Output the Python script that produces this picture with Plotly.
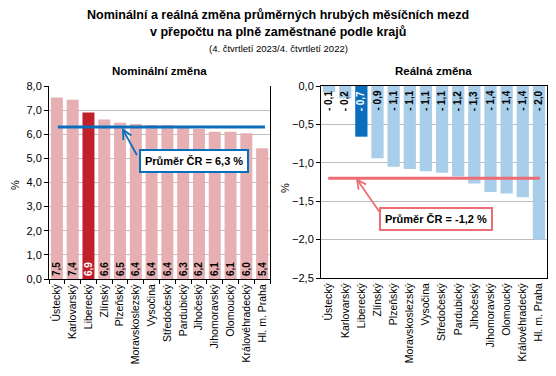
import plotly.graph_objects as go

PAGE_W, PAGE_H = 556, 376
OFF = 8  # default body margin of the page
W, H = PAGE_W - OFF, PAGE_H - OFF

regions = ["Ústecký", "Karlovarský", "Liberecký", "Zlínský", "Plzeňský",
           "Moravskoslezský", "Vysočina", "Středočeský", "Pardubický",
           "Jihočeský", "Jihomoravský", "Olomoucký", "Královéhradecký", "Hl. m. Praha"]
nominal = [7.52, 7.43, 6.90, 6.61, 6.48, 6.43, 6.38, 6.37, 6.32, 6.22, 6.10, 6.10, 6.04, 5.42]
nominal_avg = 6.3

regions_real = ["Ústecký", "Karlovarský", "Liberecký", "Zlínský", "Plzeňský",
                "Moravskoslezský", "Vysočina", "Středočeský", "Pardubický",
                "Jihočeský", "Jihomoravský", "Olomoucký", "Královéhradecký", "Hl. m. Praha"]
real = [-0.08, -0.16, -0.66, -0.94, -1.05, -1.08, -1.11, -1.13, -1.18, -1.27, -1.38, -1.40, -1.45, -2.00]
real_avg = -1.2

highlight = "Liberecký"

nom_ticks = [0, 1, 2, 3, 4, 5, 6, 7, 8]
real_ticks = [0, -0.5, -1.0, -1.5, -2.0, -2.5]

FONT = "Liberation Sans, Arial, sans-serif"
PINK, RED = "#E6B0B3", "#C0202A"
LBLUE, BLUE = "#A9CEE9", "#0A6EBD"
AVG_BLUE, AVG_RED = "#0A6EBD", "#EC6D74"


def px(x, y):
    return (x - OFF) / W, 1 - (y - OFF) / H


def dom_x(a, b):
    return [(a - OFF) / W, (b - OFF) / W]


def dom_y(top, bottom):
    return [1 - (bottom - OFF) / H, 1 - (top - OFF) / H]


fig = go.Figure()

nom_colors = [RED if r == highlight else PINK for r in regions]
nom_txtcol = ["white" if r == highlight else "black" for r in regions]
fig.add_trace(go.Bar(
    x=regions, y=nominal, marker=dict(color=nom_colors, line=dict(width=0)),
    text=[f"{v:.1f}".replace(".", ",") for v in nominal],
    textposition="inside", insidetextanchor="start", textangle=-90,
    textfont=dict(family=FONT, size=10, color=nom_txtcol, weight="bold"),
    constraintext="none",
    xaxis="x", yaxis="y", showlegend=False, hoverinfo="skip"))

real_colors = [BLUE if r == highlight else LBLUE for r in regions_real]
fig.add_trace(go.Bar(
    x=regions_real, y=real, marker=dict(color=real_colors, line=dict(width=0)),
    xaxis="x2", yaxis="y2", showlegend=False, hoverinfo="skip"))

annotations = []
for r, v in zip(regions_real, real):
    annotations.append(dict(
        x=r, y=0, xref="x2", yref="y2", text=f"- {abs(v):.1f}".replace(".", ","),
        textangle=-90, showarrow=False, xanchor="center", yanchor="top", yshift=-3,
        font=dict(family=FONT, size=10, weight="bold",
                  color="white" if r == highlight else "black")))

# average lines
fig.add_shape(type="line", xref="x domain", yref="y", x0=0.04, x1=0.977,
              y0=nominal_avg, y1=nominal_avg, line=dict(color=AVG_BLUE, width=3), layer="above")
fig.add_shape(type="line", xref="x2 domain", yref="y2", x0=0.032, x1=0.969,
              y0=real_avg, y1=real_avg, line=dict(color=AVG_RED, width=3), layer="above")

# average boxes
bx, by = px(193.5, 160.5)
annotations.append(dict(x=bx, y=by, xref="paper", yref="paper", showarrow=False,
                        xanchor="center", yanchor="middle",
                        text="<b>Průměr ČR = 6,3 %</b>", font=dict(family=FONT, size=11, color="black"),
                        bgcolor="white", bordercolor=AVG_BLUE, borderwidth=2, borderpad=4))
tx, ty = px(122, 128)
annotations.append(dict(x=tx, y=ty, xref="paper", yref="paper", text=" ", font=dict(size=1),
                        showarrow=True, ax=138 - 122, ay=157 - 128, arrowhead=5, arrowsize=1,
                        arrowwidth=1.8, arrowcolor=AVG_BLUE))
bx, by = px(435.5, 219)
annotations.append(dict(x=bx, y=by, xref="paper", yref="paper", showarrow=False,
                        xanchor="center", yanchor="middle",
                        text="<b>Průměr ČR = -1,2 %</b>", font=dict(family=FONT, size=11, color="black"),
                        bgcolor="white", bordercolor=AVG_RED, borderwidth=2, borderpad=4))
tx, ty = px(356, 178)
annotations.append(dict(x=tx, y=ty, xref="paper", yref="paper", text=" ", font=dict(size=1),
                        showarrow=True, ax=381 - 356, ay=214 - 178, arrowhead=5, arrowsize=1,
                        arrowwidth=1.8, arrowcolor=AVG_RED))

# titles
for text, ypx, size, bold in [
        ("Nominální a reálná změna průměrných hrubých měsíčních mezd", 15, 12.5, True),
        ("v přepočtu na plně zaměstnané podle krajů", 32, 12.5, True),
        ("(4. čtvrtletí 2023/4. čtvrtletí 2022)", 48, 9.5, False)]:
    x, y = px(278, ypx)
    annotations.append(dict(x=x, y=y, xref="paper", yref="paper", showarrow=False,
                            text=f"<b>{text}</b>" if bold else text,
                            xanchor="center", yanchor="middle",
                            font=dict(family=FONT, size=size, color="black")))
for text, xpx in [("Nominální změna", 159), ("Reálná změna", 433)]:
    x, y = px(xpx, 71)
    annotations.append(dict(x=x, y=y, xref="paper", yref="paper", showarrow=False,
                            text=f"<b>{text}</b>", xanchor="center", yanchor="middle",
                            font=dict(family=FONT, size=11.5, color="black")))
for xpx, ypx in [(15, 185), (285, 188)]:
    x, y = px(xpx, ypx)
    annotations.append(dict(x=x, y=y, xref="paper", yref="paper", showarrow=False,
                            text="%", textangle=-90, xanchor="center", yanchor="middle",
                            font=dict(family=FONT, size=11, color="black")))

ax_common = dict(showline=True, linecolor="black", linewidth=1, automargin=False,
                 tickfont=dict(family=FONT, size=11, color="black"))
cat_font = dict(family=FONT, size=10.5, color="black")
fig.update_layout(
    template="none",
    width=W, height=H, margin=dict(l=0, r=0, t=0, b=0, pad=0), autosize=False,
    paper_bgcolor="white", plot_bgcolor="white",
    separators=", ", bargap=0.24, annotations=annotations,
    xaxis=dict(domain=dom_x(49, 270), anchor="y", type="category",
               tickangle=-90, ticks="outside", tickson="boundaries", ticklen=4,
               tickcolor="black", showgrid=False, zeroline=False, **{**ax_common, "tickfont": cat_font}),
    yaxis=dict(domain=dom_y(86, 279), anchor="x", range=[0, 8],
               tickvals=nom_ticks, tickformat=".1f", ticks="outside", ticklen=4, tickcolor="black",
               mirror=True, showgrid=True, gridcolor="#BFBFBF", gridwidth=1, zeroline=False,
               **ax_common),
    xaxis2=dict(domain=dom_x(321, 547), anchor="y2", type="category",
                tickangle=-90, ticks="", mirror=True, showgrid=False, zeroline=False,
                **{**ax_common, "tickfont": cat_font}),
    yaxis2=dict(domain=dom_y(86, 278), anchor="x2", range=[-2.5, 0],
                tickvals=real_ticks, tickformat=".1f", ticks="outside", ticklen=4, tickcolor="black",
                mirror=True, showgrid=True, gridcolor="#BFBFBF", gridwidth=1, zeroline=False,
                **ax_common),
)

fig.write_html("out.html")
